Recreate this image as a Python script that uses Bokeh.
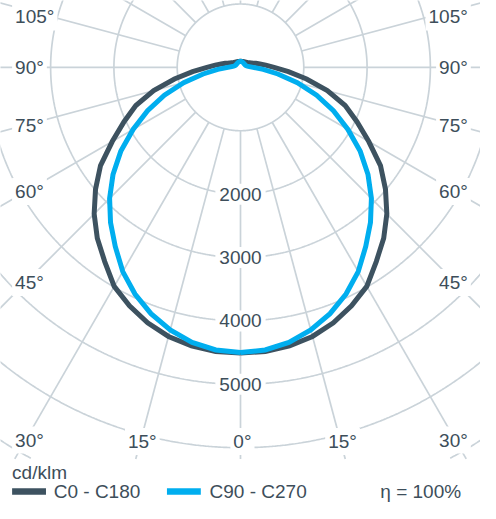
import numpy as np
from bokeh.plotting import figure
from bokeh.models import Range1d, Label
from bokeh.embed import file_html
from bokeh.resources import INLINE

# ---------------- data (cd/klm) ----------------
gamma_deg = list(range(0, 181, 5))
c0_c180 = [4505, 4500, 4460, 4395, 4290, 4150, 3990, 3740, 3520, 3270,
           2990, 2700, 2340, 2030, 1760, 1420, 1060, 760, 530, 400,
           310, 250, 200, 170, 150, 135, 125, 118, 112, 108,
           105, 102, 100, 98, 97, 96, 95]
c90_c270 = [4500, 4475, 4405, 4290, 4135, 3945, 3720, 3450, 3195, 2925,
            2630, 2310, 1960, 1620, 1280, 930, 600, 360, 200, 140,
            110, 95, 88, 84, 82, 81, 80, 81, 82, 84,
            86, 88, 90, 92, 93, 94, 95]
ring_values = [1000, 2000, 3000, 4000, 5000, 6000, 7000]
ring_labels = [2000, 3000, 4000, 5000]
angle_labels = [0, 15, 30, 45, 60, 75, 90, 105]
spoke_step = 15
series_names = ["C0 - C180", "C90 - C270"]
unit_text = "cd/klm"
eta_text = "η = 100%"

# ---------------- styling / layout ----------------
DARK = "#3d5260"
CYAN = "#00aeef"
GRID = "#cad3d9"
TEXT = "#3d4e5a"
FONT = "Liberation Sans"
FS = "19px"

W, H = 480, 503              # figure size (fits the window with margin)
RW, RH = 496, 519            # layout box the drawing is designed in
CX, CY = 248, 69             # polar centre in the layout box
PX = 65.4 / 1000.0           # layout pixels per cd/klm


def dx(px):
    return (px - CX) / PX


def dy(py):
    return (CY - py) / PX


p = figure(width=W, height=H, output_backend="svg", toolbar_location=None,
           x_range=Range1d(dx(0), dx(RW)),
           y_range=Range1d(dy(RH), dy(0)),
           x_axis_type=None, y_axis_type=None, min_border=0)
p.grid.visible = False
p.outline_line_color = None
p.background_fill_color = "white"

y_clip = dy(473)

# rings
theta = np.linspace(0, 2 * np.pi, 1441)
rx, ry = [], []
for v in ring_values:
    x = v * np.sin(theta)
    y = v * np.cos(theta)
    y = np.where(y < y_clip, np.nan, y)
    rx.append(x)
    ry.append(y)
p.multi_line(rx, ry, line_color=GRID, line_width=1.7)

# spokes
sx, sy = [], []
r0, r1 = ring_values[0], 9000
for a in range(0, 360, spoke_step):
    ar = np.radians(a)
    ux, uy = np.sin(ar), -np.cos(ar)
    x0, y0 = r0 * ux, r0 * uy
    x1, y1 = r1 * ux, r1 * uy
    if y1 < y_clip:
        t = (y_clip - y0) / (y1 - y0)
        x1, y1 = x0 + t * (x1 - x0), y_clip
    sx.append([x0, x1])
    sy.append([y0, y1])
p.multi_line(sx, sy, line_color=GRID, line_width=1.7)


# curves
def polar_path(vals):
    g = np.radians(gamma_deg)
    I = np.array(vals, dtype=float)
    xr, yr = I * np.sin(g), -I * np.cos(g)
    xl, yl = -xr[::-1][1:], yr[::-1][1:]
    return np.concatenate([xr, xl]), np.concatenate([yr, yl])


for vals, col in ((c0_c180, DARK), (c90_c270, CYAN)):
    xs, ys = polar_path(vals)
    p.line(xs, ys, line_color=col, line_width=5, line_join="miter")


def lab(xp, yp, txt, align, bg=True, pad=3):
    kw = dict(background_fill_color="white", padding=pad) if bg else {}
    p.add_layout(Label(x=dx(xp), y=dy(yp), text=txt, text_align=align,
                       text_baseline="middle", text_font=FONT,
                       text_font_size=FS, text_color=TEXT, **kw))


# value labels
for v in ring_labels:
    p.add_layout(Label(x=0, y=-v, text=str(v), text_align="center",
                       text_baseline="middle", text_font=FONT,
                       text_font_size=FS, text_color=TEXT,
                       background_fill_color="white", padding=4))

# angle labels
D_SIDE = 222
D_BOT = 386
for a in angle_labels:
    ar = np.radians(a)
    yrel = D_SIDE * np.cos(ar) / np.sin(ar) if a > 0 else 1e9
    txt = f"{a}°"
    if yrel <= D_BOT:
        ypage = min(max(CY + yrel, 17), 455)
        lab(12, ypage, txt, "left")
        lab(486, ypage, txt, "right")
    else:
        xo = D_BOT * np.tan(ar)
        sides = (-1, 1) if a > 0 else (0,)
        for s in sides:
            lab(CX + s * xo + 2, 455, txt, "center")

# legend
lab(12, 487, unit_text, "left", bg=False)
sw_y = dy(506.5)
for (x0p, x1p, txp), name, col in zip(((12, 47, 55), (172, 207, 216)),
                                      series_names, (DARK, CYAN)):
    p.segment(x0=[dx(x0p)], y0=[sw_y], x1=[dx(x1p)], y1=[sw_y],
              line_color=col, line_width=6.5, line_cap="butt")
    lab(txp, 506.5, name, "left", bg=False)
lab(476, 506.5, eta_text, "right", bg=False)

open("out.html", "w").write(file_html(p, INLINE))
